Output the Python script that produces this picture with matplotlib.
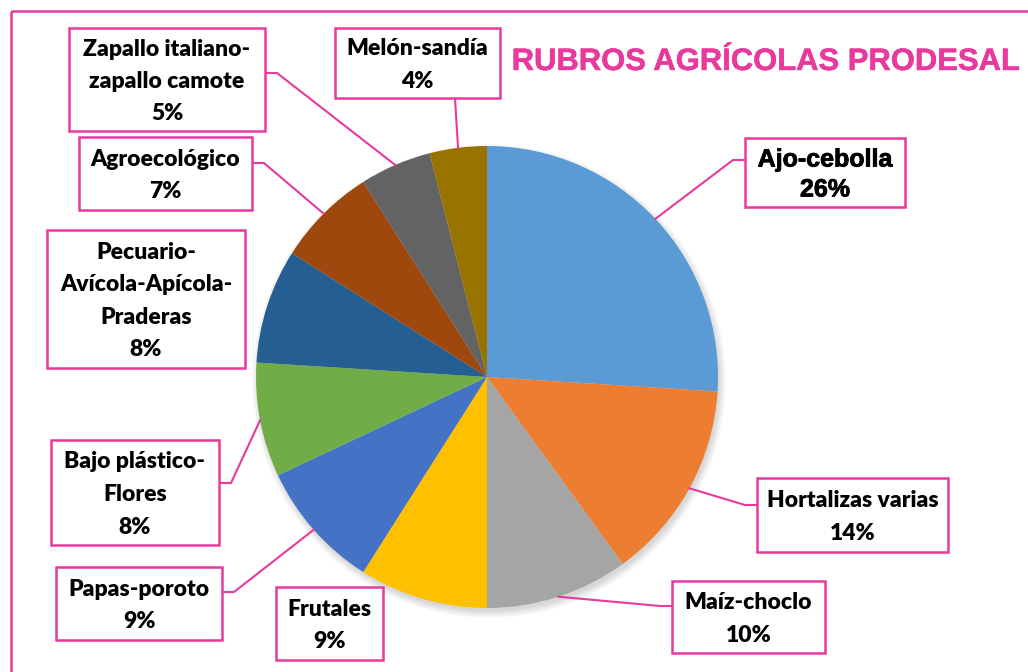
import numpy as np
import matplotlib.pyplot as plt
import matplotlib.patheffects as pe
from matplotlib.patches import Rectangle, Circle

# data
rubros = ['Ajo-cebolla', 'Hortalizas varias', 'Maíz-choclo', 'Frutales',
          'Papas-poroto', 'Bajo plástico-\nFlores',
          'Pecuario-\nAvícola-Apícola-\nPraderas', 'Agroecológico',
          'Zapallo italiano-\nzapallo camote', 'Melón-sandía']
porcentajes = [26, 14, 10, 9, 9, 8, 8, 7, 5, 4]
colores = ['#5B9BD5', '#ED7D31', '#A5A5A5', '#FFC000', '#4472C4',
           '#70AD47', '#255E91', '#9E480E', '#636363', '#997300']
titulo = 'RUBROS AGRÍCOLAS PRODESAL'

PINK = '#E8399C'
W, H = 1028, 672
cx, cy, R = 487, 377, 231

# label boxes (x0, y0, x1, y1) in pixels, plus leader anchor on the box
boxes = [(745, 138, 905, 207), (757, 478, 948, 552), (672, 581, 825, 653),
         (276, 587, 383, 660), (56, 567, 222, 640), (51, 440, 219, 545),
         (47, 230, 245, 368), (79, 137, 252, 210), (69, 28, 265, 131),
         (335, 28, 500, 98)]
anchors = [('l', 160), ('l', 505), ('l', 606), None, ('r', 592), ('r', 483),
           None, ('r', 163), ('r', 73), ('b', 455)]

fig = plt.figure(figsize=(W / 100, H / 100), dpi=100)
ax = fig.add_axes([0, 0, 1, 1])

# soft shadow
for k in range(8):
    ax.add_patch(Circle((cx + 2, cy + 4), R + 6 - k, color='black',
                        alpha=0.018, lw=0, zorder=1))

ax.pie(porcentajes, colors=colores, startangle=-90, counterclock=True,
       center=(cx, cy), radius=R, wedgeprops=dict(linewidth=0),
       frame=True)
ax.set_xlim(0, W)
ax.set_ylim(H, 0)
ax.axis('off')

# outer border
ax.add_patch(Rectangle((11, 11), W, H, fill=False, ec=PINK, lw=1.8,
                       zorder=5, clip_on=False))

ax.text(766, 62, titulo, color=PINK, fontsize=22.3, fontweight='bold',
        family='Liberation Sans', ha='center', va='center',
        path_effects=[pe.withStroke(linewidth=0.35, foreground=PINK)])

cum = np.cumsum([0] + porcentajes[:-1])
for i, (name, pct) in enumerate(zip(rubros, porcentajes)):
    x0, y0, x1, y1 = boxes[i]
    ax.add_patch(Rectangle((x0, y0), x1 - x0, y1 - y0, fc='white', ec=PINK,
                           lw=1.8, zorder=6))
    lines = name.split('\n') + [f'{pct}%']
    if i == 0:
        fam, fs, step, wt = 'Liberation Sans', 18, 30, 'bold'
        fx = [pe.withStroke(linewidth=0.6, foreground='black')]
    else:
        fam, fs, step, wt = 'Lato', 16.5, 32.5, 'heavy'
        fx = None
    mid = (y0 + y1) / 2 + 2
    for j, ln in enumerate(lines):
        yy = mid + (j - (len(lines) - 1) / 2) * step
        ax.text((x0 + x1) / 2, yy, ln, ha='center', va='center',
                fontsize=fs, fontweight=wt, family=fam, zorder=7,
                path_effects=fx)
    if anchors[i] is None:
        continue
    ang = np.deg2rad(-90 + 360 * (cum[i] + pct / 2) / 100)
    px, py = cx + R * np.cos(ang), cy + R * np.sin(ang)
    side, pos = anchors[i]
    if side == 'b':
        xs, ys = [pos, pos, px], [y1, y1, py]
    elif side == 'l':
        xs, ys = [x0, x0 - 12, px], [pos, pos, py]
    else:
        xs, ys = [x1, x1 + 12, px], [pos, pos, py]
    ax.plot(xs, ys, color=PINK, lw=1.5, zorder=4)

fig.savefig('out.png', dpi=100)
